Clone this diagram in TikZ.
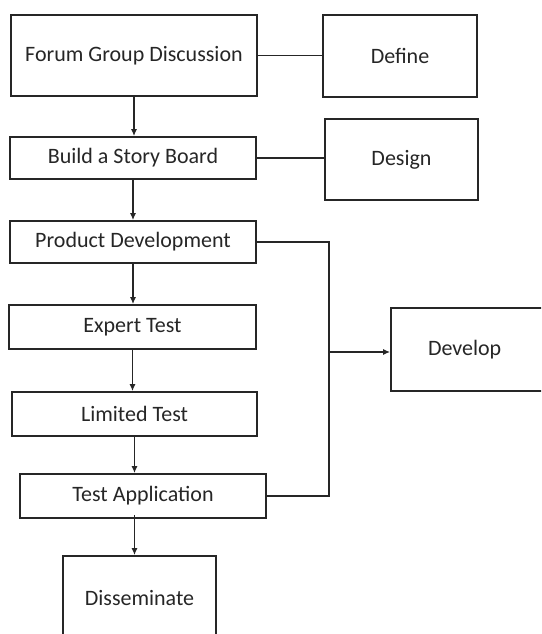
\documentclass[tikz,border=0pt]{standalone}
\usepackage{fontspec}
\setmainfont{Carlito}
\usetikzlibrary{arrows.meta}
\begin{document}
\begin{tikzpicture}[x=1pt, y=-1pt, line width=1.7pt, color=black!85,
		>={Latex[length=7pt,width=6pt]},
		stage/.style={draw, inner sep=0pt, font=\fontsize{22}{26}\selectfont}]
			\useasboundingbox (0,0) rectangle (541,634);
			\clip (0,0) rectangle (541,634);
			
			%main steps
			\node[stage, minimum width=246pt, minimum height=81pt] (fgd) at (134, 55.5){Forum Group Discussion};
			\node[stage, minimum width=246pt, minimum height=42pt] (board) at (133, 158){Build a Story Board};
			\node[stage, minimum width=246pt, minimum height=42pt] (prod) at (133, 242){Product Development};
			\node[stage, minimum width=247pt, minimum height=44pt] (expert) at (132.5, 327){Expert Test};
			\node[stage, minimum width=245pt, minimum height=44pt] (limited) at (134.5, 414){Limited Test};
			\node[stage, minimum width=246pt, minimum height=44pt] (testapp) at (143, 496){Test Application};
			\node[stage, minimum width=153pt, minimum height=84pt] (dissem) at (139.5, 598){Disseminate};
			
			%phases
			\node[stage, minimum width=154pt, minimum height=82pt] (define) at (400, 56){Define};
			\node[stage, minimum width=153pt, minimum height=81pt] (design) at (401.5, 159.5){Design};
			\node[stage, minimum width=170pt, minimum height=83pt, text width=150pt, align=left] (develop) at (476, 349.5){\hspace{27pt}Develop};
			\coordinate (bus) at (329, 352);
			
			\draw[->] (fgd.south) -- (fgd.south |- board.north);
			\draw[->] (board.south) -- (board.south |- prod.north);
			\draw[->] (prod.south) -- (prod.south |- expert.north);
			\draw[->] (expert.south) -- (expert.south |- limited.north);
			\draw[->] (limited.south) -- (limited.south |- testapp.north);
			\draw[->] ([yshift=4pt]limited.south |- testapp.south) -- (limited.south |- dissem.north);
			
			\draw (fgd.east) -- (fgd.east -| define.west);
			\draw (board.east) -- (board.east -| design.west);
			\draw (prod.east) -| (bus) |- (testapp.east);
			\draw[->] (bus) -- (bus -| develop.west);
		\end{tikzpicture}
\end{document}
